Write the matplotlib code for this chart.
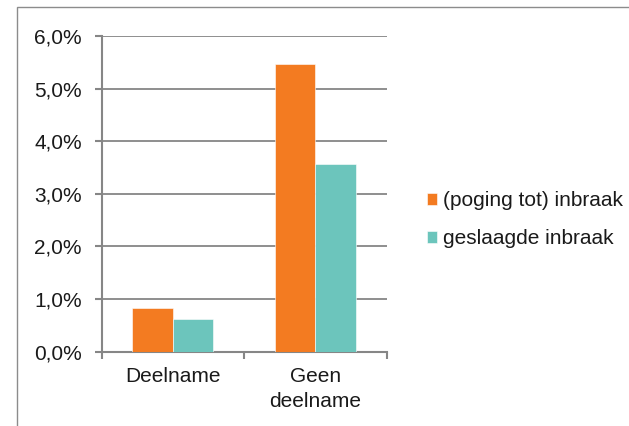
import matplotlib.pyplot as plt
from matplotlib.patches import Rectangle
from matplotlib.ticker import FuncFormatter
import numpy as np

plt.rcParams['font.family'] = ['Liberation Sans', 'DejaVu Sans']

# Gegevens (percentages)
categorieen = ['Deelname', 'Geen\ndeelname']
poging_inbraak = [0.84, 5.46]
geslaagde_inbraak = [0.62, 3.56]
reeksen = ['(poging tot) inbraak', 'geslaagde inbraak']
kleuren = ['#F37B21', '#6CC5BC']
grijs = '#868686'
tekst = '#1a1a1a'

fig = plt.figure(figsize=(6.29, 4.26), dpi=100)
fig.patch.set_facecolor('white')

# Kader rond de grafiek (rechts en onder vallen buiten beeld)
fig.add_artist(Rectangle((17 / 629, -0.5), 2.0, 1 - 7.3 / 426 + 0.5,
                         transform=fig.transFigure, fill=False,
                         edgecolor='#8c8c8c', linewidth=1.0))

ax = fig.add_axes([0.1617, 0.1744, 0.4531, 0.7411])

x = np.arange(len(categorieen))
breedte = 0.284
ax.bar(x - breedte / 2, poging_inbraak, breedte, color=kleuren[0],
       edgecolor='white', linewidth=0.4, label=reeksen[0], zorder=3)
ax.bar(x + breedte / 2, geslaagde_inbraak, breedte, color=kleuren[1],
       edgecolor='white', linewidth=0.4, label=reeksen[1], zorder=3)

ax.set_xlim(-0.5, 1.5)
ax.set_ylim(0, 6)
ax.set_yticks(np.arange(0, 7, 1))
ax.yaxis.set_major_formatter(FuncFormatter(lambda v, p: f'{v:.1f}%'.replace('.', ',')))

# scheidingsstreepjes tussen de categorieen, labels in het midden
ax.set_xticks([-0.5, 0.5, 1.5], minor=False)
ax.set_xticklabels([])
ax.set_xticks(x, minor=True)
ax.set_xticklabels(categorieen, minor=True)
ax.tick_params(axis='x', which='minor', length=0, pad=11, labelsize=15,
               labelcolor=tekst)
ax.tick_params(axis='x', which='major', length=5, width=1.5, color=grijs)
ax.tick_params(axis='y', length=5, width=1.5, color=grijs, labelsize=15,
               labelcolor=tekst, pad=9.3)
for lbl in ax.get_xticklabels(minor=True):
    lbl.set_linespacing(1.4)

ax.grid(axis='y', color=grijs, linewidth=1.3, zorder=0)
ax.set_axisbelow(True)

for kant in ['top', 'right']:
    ax.spines[kant].set_visible(False)
for kant in ['left', 'bottom']:
    ax.spines[kant].set_color(grijs)
    ax.spines[kant].set_linewidth(1.5)

leg = ax.legend(loc='center left', bbox_to_anchor=(1.142, 0.418), frameon=False,
                fontsize=15, handlelength=0.48, handleheight=0.48,
                handletextpad=0.28, labelspacing=0.9,
                borderpad=0, borderaxespad=0)
for t in leg.get_texts():
    t.set_color(tekst)

fig.savefig('out.png', dpi=100, facecolor='white')
